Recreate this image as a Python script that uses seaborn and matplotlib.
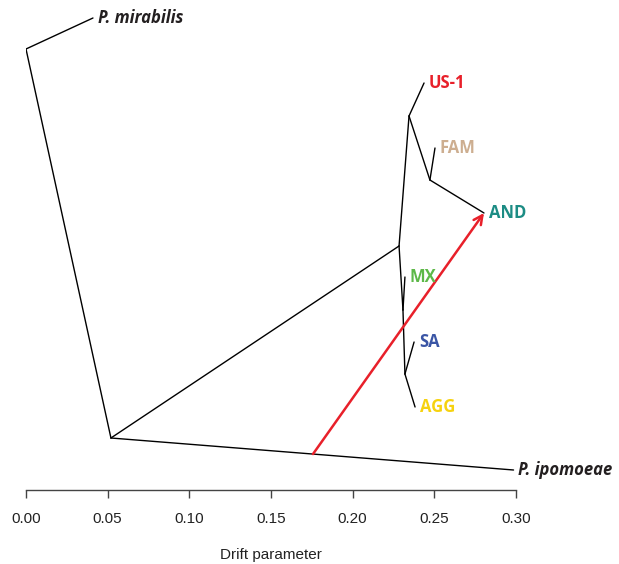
import matplotlib
matplotlib.use("Agg")
import matplotlib.pyplot as plt
import seaborn as sns
import pandas as pd
import numpy as np

# ---- data: tree nodes (drift parameter x, vertical layout order y) ----
node_names = ["root", "mirabilis", "n1", "ipomoeae", "n2", "n3", "US-1", "n4",
              "FAM", "AND", "n5", "MX", "n6", "SA", "AGG"]
node_drift = [0.000, 0.041, 0.052, 0.2985, 0.2284, 0.2345, 0.2437, 0.2473,
              0.2504, 0.2804, 0.2308, 0.2320, 0.2320, 0.2376, 0.2382]
node_vpos = [49, 18, 438, 470, 246, 116, 83, 180,
             148, 213, 310, 277, 374, 342, 407]

edge_parent = ["root", "root", "n1", "n1", "n2", "n3", "n3", "n4", "n4",
               "n2", "n5", "n5", "n6", "n6"]
edge_child = ["mirabilis", "n1", "ipomoeae", "n2", "n3", "US-1", "n4", "FAM", "AND",
              "n5", "MX", "n6", "SA", "AGG"]

tip_labels = ["P. mirabilis", "P. ipomoeae", "US-1", "FAM", "AND", "MX", "SA", "AGG"]
tip_nodes = ["mirabilis", "ipomoeae", "US-1", "FAM", "AND", "MX", "SA", "AGG"]
tip_colors = ["#231F20", "#231F20", "#E8202A", "#CDAE90", "#1C8C84",
              "#5DB848", "#3A55A5", "#F6D20F"]
tip_styles = ["italic", "italic", "normal", "normal", "normal", "normal", "normal", "normal"]

# migration edge: from ipomoeae branch to AND
mig_from_edge = ("n1", "ipomoeae")
mig_from_drift = 0.1757
mig_to = "AND"

xticks = [0.00, 0.05, 0.10, 0.15, 0.20, 0.25, 0.30]
xtick_labels = ["0.00", "0.05", "0.10", "0.15", "0.20", "0.25", "0.30"]

# ---- build ----
pos = {n: (x, y) for n, x, y in zip(node_names, node_drift, node_vpos)}
rows = []
for i, (p, c) in enumerate(zip(edge_parent, edge_child)):
    rows.append({"edge": i, "order": 0, "x": pos[p][0], "y": pos[p][1]})
    rows.append({"edge": i, "order": 1, "x": pos[c][0], "y": pos[c][1]})
edges = pd.DataFrame(rows)

sns.set_style("white")
plt.rcParams["font.family"] = ["Liberation Sans", "DejaVu Sans"]

W, H = 619, 564
fig = plt.figure(figsize=(W / 100, H / 100), dpi=100)
ax = fig.add_axes([26 / W, (H - 490) / H, 490 / W, 490 / H])

sns.lineplot(data=edges, x="x", y="y", units="edge", estimator=None, sort=False,
             color="black", linewidth=1.0, ax=ax, legend=False)

# migration arrow
(x1, y1), (x2, y2) = pos[mig_from_edge[0]], pos[mig_from_edge[1]]
t = (mig_from_drift - x1) / (x2 - x1)
src = (mig_from_drift, y1 + t * (y2 - y1))
ax.annotate("", xy=pos[mig_to], xytext=src,
            arrowprops=dict(arrowstyle="->", color="#E8202A", lw=1.8,
                            mutation_scale=16, shrinkA=0, shrinkB=0))

for lab, n, col, st in zip(tip_labels, tip_nodes, tip_colors, tip_styles):
    ax.annotate(lab, xy=pos[n], xytext=(3.5, 0), textcoords="offset points",
                ha="left", va="center", color=col, fontsize=12, fontweight="bold",
                fontstyle=st, family=["Open Sans", "DejaVu Sans"],
                annotation_clip=False)

ax.set_xlim(0, 0.30)
ax.set_ylim(490, 0)
ax.set_yticks([])
ax.set_xticks(xticks)
ax.set_xticklabels(xtick_labels, fontsize=11)
ax.set_xlabel("Drift parameter", fontsize=11, labelpad=15.5, color="#222222")
ax.set_ylabel("")
for s in ["top", "right", "left"]:
    ax.spines[s].set_visible(False)
ax.spines["bottom"].set_color("#444444")
ax.spines["bottom"].set_linewidth(1.0)
ax.tick_params(axis="x", direction="out", length=6, width=1.0, color="#444444",
               pad=10, labelcolor="#222222", bottom=True)
ax.set_facecolor("none")

fig.savefig("out.png", dpi=100)
